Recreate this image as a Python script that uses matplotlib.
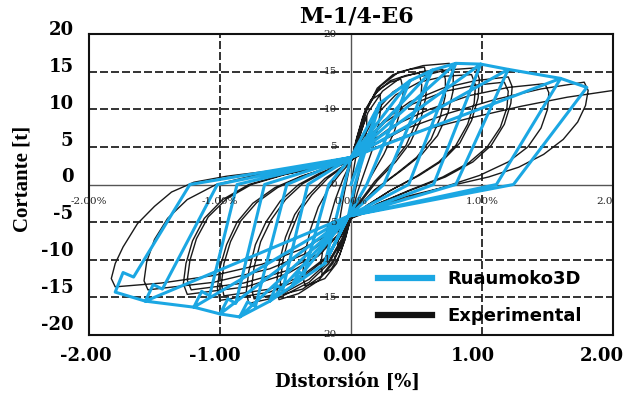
import matplotlib
matplotlib.use("Agg")
import matplotlib.pyplot as plt
from matplotlib.lines import Line2D

plt.rcParams['axes.unicode_minus'] = False

# Ruaumoko3D model: drift [%] and shear [t] along the load path
ruau_drift = [0.00, 0.22, 0.03, -0.02, -0.20, -0.05,
              0.00, 0.22, 0.45, 0.12, -0.02, -0.20, -0.45, -0.40, -0.36, -0.17,
              0.00, 0.45, 0.62, 0.25, -0.02, -0.45, -0.62, -0.57, -0.52, -0.33,
              0.00, 0.62, 0.80, 0.44, -0.02, -0.62, -0.85, -0.79, -0.73, -0.49,
              0.00, 0.80, 0.99, 0.63, -0.02, -0.85, -1.00, -0.94, -0.88, -0.66,
              0.00, 0.99, 1.20, 0.80, -0.02, -1.00, -1.20, -1.14, -1.08, -0.87,
              0.00, 1.20, 1.60, 1.11, -0.02, -1.20, -1.57, -1.51, -1.44, -1.02,
              0.00, 1.60, 1.80, 1.24, -0.02, -1.57, -1.80, -1.74, -1.66, -1.23,
              0.00]
ruau_shear = [0.0, 10.8, 0.0, -4.2, -10.5, 0.0,
              3.6, 10.8, 13.8, 0.0, -4.2, -10.5, -13.5, -11.6, -12.0, 0.0,
              3.6, 13.8, 15.2, 0.0, -4.2, -13.5, -15.5, -13.4, -13.9, 0.0,
              3.6, 15.2, 16.1, 0.0, -4.2, -15.5, -17.6, -15.6, -16.2, 0.0,
              3.6, 16.1, 16.0, 0.0, -4.2, -17.6, -17.2, -15.2, -15.8, 0.0,
              3.6, 16.0, 15.3, 0.0, -4.2, -17.2, -16.3, -14.2, -14.8, 0.0,
              3.6, 15.3, 14.1, 0.0, -4.2, -16.3, -15.5, -13.3, -13.9, 0.0,
              3.6, 14.1, 12.9, 0.0, -4.2, -15.5, -14.3, -11.7, -12.3, 0.0,
              3.6]

# Experimental test record: drift [%] and shear [t]
exp_drift = [
    0.00, 0.03, 0.06, 0.10, 0.12, 0.12, 0.10, 0.07, 0.03, 0.00,
    -0.03, -0.07, -0.10, -0.10, -0.08, -0.05, -0.02, 0.00,
    0.04, 0.09, 0.15, 0.22, 0.23, 0.21, 0.17, 0.11, 0.05, 0.00,
    -0.04, -0.09, -0.15, -0.22, -0.23, -0.21, -0.17, -0.12, -0.06, 0.00,
    0.05, 0.11, 0.20, 0.30, 0.38, 0.40, 0.38, 0.33, 0.25, 0.15, 0.06, 0.00,
    -0.05, -0.11, -0.20, -0.35, -0.37, -0.35, -0.31, -0.25, -0.17, -0.08, 0.00,
    0.06, 0.12, 0.20, 0.32, 0.45, 0.56, 0.58, 0.57, 0.53, 0.45, 0.34, 0.20, 0.08, 0.00,
    -0.06, -0.14, -0.25, -0.40, -0.55, -0.57, -0.55, -0.50, -0.43, -0.33, -0.20, -0.08, 0.00,
    0.05, 0.10, 0.18, 0.30, 0.42, 0.52, 0.54, 0.53, 0.49, 0.42, 0.31, 0.18, 0.07, 0.00,
    -0.06, -0.13, -0.23, -0.37, -0.52, -0.54, -0.52, -0.47, -0.40, -0.30, -0.18, -0.07, 0.00,
    0.06, 0.12, 0.22, 0.36, 0.55, 0.75, 0.78, 0.78, 0.74, 0.66, 0.54, 0.38, 0.20, 0.07, 0.00,
    -0.07, -0.17, -0.32, -0.52, -0.78, -0.80, -0.78, -0.73, -0.65, -0.54, -0.40, -0.24, -0.10, 0.00,
    0.06, 0.13, 0.24, 0.38, 0.54, 0.70, 0.72, 0.72, 0.68, 0.61, 0.50, 0.35, 0.18, 0.06, 0.00,
    -0.07, -0.17, -0.32, -0.50, -0.74, -0.76, -0.74, -0.69, -0.61, -0.50, -0.37, -0.22, -0.09, 0.00,
    0.08, 0.18, 0.32, 0.50, 0.72, 0.95, 0.98, 0.97, 0.92, 0.83, 0.70, 0.52, 0.30, 0.12, 0.00,
    -0.08, -0.20, -0.38, -0.62, -1.00, -1.02, -1.00, -0.95, -0.87, -0.75, -0.58, -0.38, -0.18, 0.00,
    0.08, 0.19, 0.34, 0.52, 0.72, 0.92, 0.95, 0.94, 0.89, 0.80, 0.67, 0.50, 0.29, 0.12, 0.00,
    -0.08, -0.20, -0.38, -0.62, -0.97, -0.99, -0.97, -0.92, -0.84, -0.72, -0.56, -0.37, -0.18, 0.00,
    0.10, 0.25, 0.45, 0.70, 0.95, 1.20, 1.23, 1.22, 1.17, 1.07, 0.93, 0.72, 0.45, 0.20, 0.00,
    -0.10, -0.25, -0.48, -0.80, -1.25, -1.28, -1.26, -1.21, -1.12, -0.98, -0.78, -0.52, -0.25, 0.00,
    0.10, 0.26, 0.47, 0.72, 0.95, 1.17, 1.20, 1.19, 1.14, 1.04, 0.90, 0.70, 0.44, 0.20, 0.00,
    -0.10, -0.26, -0.50, -0.82, -1.22, -1.25, -1.23, -1.18, -1.09, -0.95, -0.76, -0.51, -0.25, 0.00,
    0.12, 0.32, 0.60, 0.90, 1.20, 1.48, 1.51, 1.50, 1.45, 1.35, 1.20, 0.98, 0.68, 0.35, 0.00,
    -0.12, -0.32, -0.62, -1.05, -1.55, -1.58, -1.56, -1.50, -1.40, -1.25, -1.03, -0.72, -0.38, 0.00,
    0.15, 0.40, 0.75, 1.10, 1.45, 1.78, 1.81, 1.79, 1.73, 1.62, 1.47, 1.28, 1.05, 0.75, 0.42, 0.15, 0.00,
    -0.15, -0.38, -0.68, -1.05, -1.45, -1.80, -1.83, -1.80, -1.74, -1.63, -1.50, -1.37, -1.20, -0.95,
    -0.62, -0.30, 0.00,
    0.20, 0.50, 0.90, 1.30, 1.65, 2.00]
exp_shear = [
    0.0, 3.0, 6.0, 8.3, 9.0, 7.5, 5.0, 2.0, -1.0, -4.0,
    -6.0, -8.0, -9.0, -7.0, -4.0, -1.0, 1.5, 3.0,
    6.0, 9.0, 11.2, 12.0, 10.5, 8.0, 5.0, 2.0, -1.0, -4.2,
    -7.0, -9.5, -11.2, -12.0, -10.5, -8.0, -5.0, -2.0, 0.8, 3.0,
    6.5, 10.0, 12.5, 13.6, 14.0, 12.5, 10.0, 7.0, 4.0, 1.0, -2.0, -4.4,
    -7.5, -10.5, -12.5, -13.5, -12.0, -9.0, -6.0, -3.0, -0.5, 1.5, 3.0,
    6.5, 10.0, 12.8, 14.6, 15.3, 15.6, 14.0, 11.5, 8.5, 5.5, 3.0, 0.5, -2.2, -4.5,
    -7.5, -10.5, -12.8, -14.5, -15.3, -13.5, -10.5, -7.0, -4.0, -1.5, 0.8, 2.2, 3.0,
    6.0, 9.2, 12.0, 13.8, 14.5, 14.8, 13.2, 10.8, 8.0, 5.2, 2.8, 0.4, -2.2, -4.5,
    -7.2, -10.0, -12.2, -13.9, -14.6, -13.0, -10.0, -6.8, -3.8, -1.4, 0.8, 2.2, 3.0,
    6.5, 10.0, 13.0, 14.9, 15.8, 16.1, 14.8, 12.5, 9.5, 6.5, 4.0, 1.8, -0.5, -2.8, -4.5,
    -7.5, -10.5, -13.0, -14.8, -15.8, -14.3, -11.5, -8.0, -5.0, -2.2, 0.0, 1.5, 2.5, 3.1,
    6.2, 9.6, 12.4, 14.2, 15.0, 15.3, 14.0, 11.8, 8.9, 6.0, 3.6, 1.5, -0.7, -2.9, -4.5,
    -7.2, -10.2, -12.6, -14.3, -15.2, -13.8, -11.0, -7.6, -4.7, -2.0, 0.1, 1.5, 2.5, 3.1,
    6.0, 9.5, 12.3, 14.2, 15.2, 15.5, 14.0, 11.5, 8.5, 5.5, 3.2, 1.2, -0.8, -2.8, -4.5,
    -7.0, -10.0, -12.5, -14.3, -15.4, -13.8, -11.0, -8.0, -5.0, -2.5, -0.4, 1.1, 2.2, 3.1,
    5.8, 9.2, 11.9, 13.6, 14.4, 14.6, 13.2, 10.8, 8.0, 5.2, 3.0, 1.1, -0.9, -2.8, -4.5,
    -6.9, -9.8, -12.2, -13.9, -14.8, -13.2, -10.5, -7.6, -4.8, -2.4, -0.4, 1.1, 2.2, 3.1,
    5.5, 8.5, 11.0, 12.8, 13.8, 14.3, 13.0, 10.8, 8.0, 5.2, 3.0, 1.0, -0.8, -2.6, -4.5,
    -6.8, -9.5, -11.8, -13.6, -14.6, -13.2, -10.5, -7.5, -4.5, -2.0, 0.0, 1.3, 2.3, 3.1,
    5.4, 8.3, 10.7, 12.4, 13.2, 13.6, 12.4, 10.2, 7.6, 5.0, 2.9, 1.0, -0.8, -2.6, -4.5,
    -6.7, -9.3, -11.5, -13.1, -14.0, -12.7, -10.1, -7.2, -4.3, -1.9, 0.0, 1.3, 2.3, 3.1,
    5.2, 7.8, 10.0, 11.8, 12.9, 13.4, 12.2, 10.0, 7.5, 5.0, 3.0, 1.2, -0.5, -2.2, -4.5,
    -6.5, -9.0, -11.2, -13.0, -14.0, -12.8, -10.3, -7.3, -4.5, -2.0, 0.0, 1.3, 2.3, 3.2,
    5.0, 7.3, 9.5, 11.3, 12.7, 13.6, 12.5, 10.5, 8.3, 6.0, 4.0, 2.3, 1.0, -0.2, -1.6, -3.2, -4.5,
    -6.5, -8.6, -10.6, -12.1, -13.1, -13.6, -12.5, -10.5, -8.3, -5.2, -2.9, -1.0, 0.3, 1.1,
    1.8, 2.5, 3.3,
    5.0, 7.0, 8.8, 10.4, 11.6, 12.5]

x_ticks = [-2, -1, 0, 1, 2]
x_tick_labels = ["-2.00", "-1.00", "0.00", "1.00", "2.00"]
y_ticks = [-20, -15, -10, -5, 0, 5, 10, 15, 20]
y_tick_labels = ["-20", "-15", "-10", "-5", "0", "5", "10", "15", "20"]
inner_x_labels = ["-2.00%", "-1.00%", "0.00%", "1.00%", "2.00%"]
inner_y_labels = ["20", "15", "10", "5", "0", "5", "10", "15", "20"]
series_names = ["Ruaumoko3D", "Experimental"]

blue = "#1ba7e3"
dash = (0, (4.8, 1.8))

fig = plt.figure(figsize=(6.26, 3.95), dpi=100)

# plotting area with the original grid
ax = fig.add_axes([0.1422, 0.1519, 0.8371, 0.7620])
ax.set_xlim(-2, 2)
ax.set_ylim(-20, 20)
ax.set_xticks([])
ax.set_yticks([])
for v in [-15, -10, -5, 5, 10, 15]:
    ax.axhline(v, color="#111111", lw=1.2, ls=dash, zorder=1)
for v in [-1, 1]:
    ax.axvline(v, color="#111111", lw=1.2, ls=dash, zorder=1)
ax.axhline(0, color="#555555", lw=1.0, zorder=1)
ax.axvline(0, color="#555555", lw=1.0, zorder=1)
for s in ax.spines.values():
    s.set_linewidth(1.5)
    s.set_color("#111111")

ax.plot(exp_drift, exp_shear, color="#1a1a1a", lw=1.0, zorder=2)
ax.plot(ruau_drift, ruau_shear, color=blue, lw=2.2, zorder=3)

# small scale labels printed along the zero axes
for v, t in zip(y_ticks[::-1], inner_y_labels):
    ax.text(-0.11, v, t, ha="right", va="center", fontsize=7.5,
            family="DejaVu Serif", color="#222222", clip_on=False, zorder=4)
for v, t in zip(x_ticks, inner_x_labels):
    ax.text(v, -2.3, t, ha="center", va="center", fontsize=7.5,
            family="DejaVu Serif", color="#222222", clip_on=(v == 2), zorder=4)

handles = [Line2D([], [], color=blue, lw=4.5),
           Line2D([], [], color="#111111", lw=4.5)]
ax.legend(handles, series_names, loc="upper left",
          bbox_to_anchor=(0.552, 0.215), frameon=False, borderpad=0,
          borderaxespad=0, handlelength=3.0, handletextpad=0.85,
          labelspacing=1.05,
          prop={"family": "DejaVu Sans", "weight": "bold", "size": 13})

# outer scale labels
ov = fig.add_axes([0.1374, 0.1823, 0.8243, 0.7468], frameon=False)
ov.patch.set_alpha(0)
ov.set_xlim(-2, 2)
ov.set_ylim(-20, 20)
ov.set_xticks(x_ticks)
ov.set_xticklabels(x_tick_labels, family="DejaVu Serif", weight="bold", fontsize=13)
ov.set_yticks(y_ticks)
ov.set_yticklabels(y_tick_labels, family="DejaVu Serif", weight="bold", fontsize=13)
ov.tick_params(axis="both", length=0)
ov.tick_params(axis="x", pad=17)
ov.tick_params(axis="y", pad=9)
ov.set_xlabel("Distorsión [%]", family="DejaVu Serif", weight="bold", fontsize=13)
ov.xaxis.set_label_coords(0.506, -0.168)
ov.set_ylabel("Cortante [t]", family="Liberation Serif", weight="bold", fontsize=15)
ov.yaxis.set_label_coords(-0.103, 0.488)

fig.text(0.570, 0.985, "M-1/4-E6", ha="center", va="top",
         family="DejaVu Serif", weight="bold", fontsize=16)

fig.savefig("out.png", dpi=100)
